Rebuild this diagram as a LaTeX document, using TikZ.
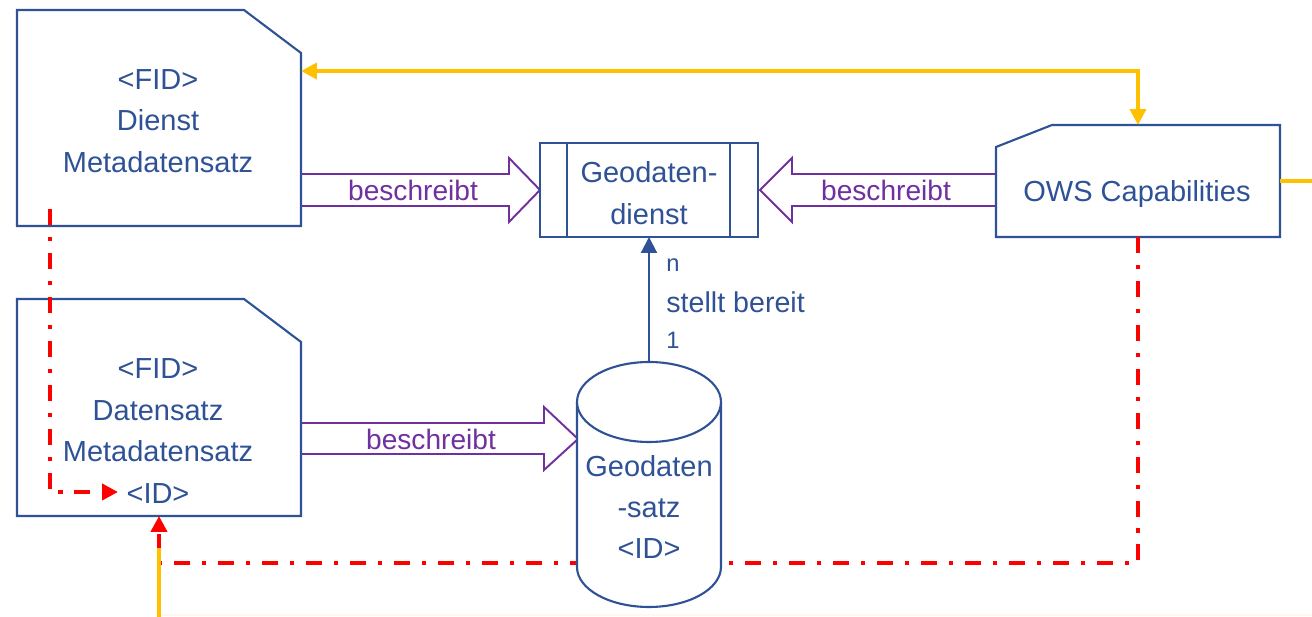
\documentclass[tikz,border=0pt]{standalone}
\usepackage{fontspec}
\setmainfont{Liberation Sans}
\usetikzlibrary{arrows.meta}
\definecolor{dblue}{RGB}{47,82,150}
\definecolor{purp}{RGB}{112,48,160}
\definecolor{yel}{RGB}{255,192,0}
\definecolor{myred}{RGB}{255,0,0}
\begin{document}
\begin{tikzpicture}[x=0.02cm,y=-0.02cm,
  shapeline/.style={draw=dblue, line width=1.2pt, fill=white, line join=miter},
  boxtext/.style={text=dblue, font=\fontsize{16.5}{23.6}\selectfont, align=center, inner sep=0pt},
  lbl/.style={text=purp, font=\fontsize{16}{18}\selectfont, inner sep=0pt},
  bluelbl/.style={text=dblue, font=\fontsize{16.3}{18}\selectfont, inner sep=0pt, anchor=west},
  smalllbl/.style={text=dblue, font=\fontsize{13.5}{15}\selectfont, inner sep=0pt, anchor=west},
  blockarrow/.style={draw=purp, line width=1.1pt, fill=white, line join=miter},
  tipstyle/.style={-{Triangle[length=9pt,width=9pt]}},
  reddash/.style={draw=myred, line width=2.3pt, dash pattern=on 9.1pt off 6.8pt on 2.3pt off 6.8pt},
  yelline/.style={draw=yel, line width=2.2pt}
]
\useasboundingbox (0,0) rectangle (1312,617);

% faint yellow remnant at the bottom
\draw[yel!10, line width=1.2pt] (160,615) -- (1312,615);

% block arrows
\draw[blockarrow] (301,174) -- (509,174) -- (509,158) -- (540,190) -- (509,222) -- (509,206) -- (301,206);
\draw[blockarrow] (996,174) -- (792,174) -- (792,158) -- (760,190) -- (792,222) -- (792,206) -- (996,206);
\draw[blockarrow] (301,423) -- (544,423) -- (544,407) -- (578,439) -- (544,470) -- (544,454) -- (301,454);
\node[lbl] (lb1) at (413,190) {beschreibt};
\node[lbl] (lb2) at (886,190) {beschreibt};
\node[lbl] (lb3) at (431,439) {beschreibt};

% Dienst Metadatensatz
\draw[shapeline] (17,10) -- (244,10) -- (301,53) -- (301,226) -- (17,226) -- cycle;
\node[boxtext] (dms) at (158,121) {<FID>\\Dienst\\Metadatensatz};
\coordinate (dms-east) at (301,71);

% Datensatz Metadatensatz
\draw[shapeline] (17,299) -- (244,299) -- (301,342) -- (301,516) -- (17,516) -- cycle;
\node[boxtext] (dsms) at (158,431) {<FID>\\Datensatz\\Metadatensatz\\<ID>};
\coordinate (dsms-south) at (159,516);
\coordinate (id-west) at (118,492);

% Geodatendienst
\draw[shapeline, line width=1pt] (540,143) rectangle (758,237);
\draw[dblue, line width=1pt] (567,143) -- (567,237) (730,143) -- (730,237);
\node[boxtext] (gd) at (649,193) {Geodaten-\\dienst};
\coordinate (gd-south) at (649,237);

% OWS Capabilities
\draw[shapeline] (996,147) -- (1052,125) -- (1280,125) -- (1280,237) -- (996,237) -- cycle;
\node[boxtext] (ows) at (1137,194) {OWS Capabilities};
\coordinate (ows-north) at (1138,125);
\coordinate (ows-south) at (1138,237);
\coordinate (ows-east) at (1280,181);
\coordinate (rightedge) at (1312,181);

% red dash-dot lines
\coordinate (c1) at (50,209);
\coordinate (c2) at (50,492);
\draw[reddash, tipstyle] (c1) -- (c2) -- (id-west);
\coordinate (c3) at (1138,563);
\coordinate (c4) at (159,563);
\draw[reddash, tipstyle] (ows-south) -- (c3) -- (c4) -- (dsms-south);

% Geodatensatz cylinder
\draw[shapeline] (577,402) -- (577,567) arc[start angle=180, end angle=360, x radius=1.44cm, y radius=0.8cm] -- (721,402);
\draw[shapeline] (649,402) ellipse [x radius=1.44cm, y radius=0.8cm];
\node[boxtext] (gs) at (649,507) {Geodaten\\-satz\\<ID>};
\coordinate (gs-north) at (649,362);

% stellt bereit
\draw[dblue, line width=1.2pt, tipstyle] (gs-north) -- (gd-south);
\node[smalllbl] (ln) at (666,265) {n};
\node[bluelbl] (lsb) at (666,302) {stellt bereit};
\node[smalllbl] (l1) at (666,340) {1};

% yellow lines
\draw[yelline, {Triangle[length=9pt,width=9pt]}-{Triangle[length=9pt,width=9pt]}] (dms-east) -- (1138,71) -- (ows-north);
\draw[yelline] (ows-east) -- (rightedge);
\coordinate (ybot) at (159,617);
\coordinate (ytop) at (159,548);
\draw[yelline] (ybot) -- (ytop);
\end{tikzpicture}
\end{document}
